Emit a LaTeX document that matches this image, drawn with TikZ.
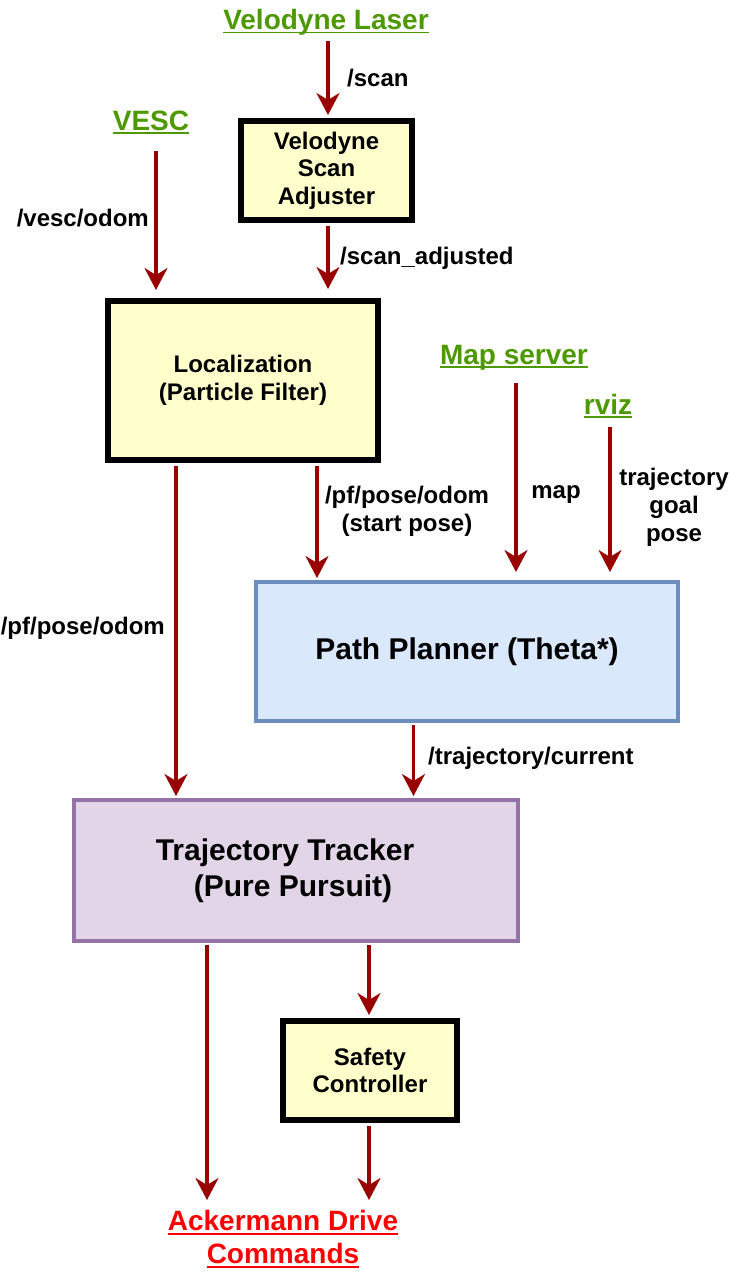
\documentclass[tikz,border=0pt]{standalone}
\usepackage{fontspec}
\setmainfont{Liberation Sans}
\usetikzlibrary{arrows.meta}
\definecolor{arrred}{HTML}{990000}
\definecolor{srcgreen}{HTML}{4D9900}
\definecolor{ackred}{HTML}{FF0000}
\definecolor{yfill}{HTML}{FFFFCC}
\definecolor{ppfill}{HTML}{DAE8FC}
\definecolor{ppdraw}{HTML}{6C8EBF}
\definecolor{ttfill}{HTML}{E1D5E7}
\definecolor{ttdraw}{HTML}{9673A6}
\newcommand\ulbox[1]{\setbox0\hbox{#1}\rlap{\rule[-4pt]{\wd0}{1.8pt}}\box0}
\begin{document}
\begin{tikzpicture}[x=1pt,y=-1pt,
  src/.style={font=\fontsize{28}{33}\selectfont\bfseries, text=srcgreen, inner sep=2pt, align=center},
  lbl/.style={font=\fontsize{24}{28}\selectfont\bfseries, inner sep=0pt, align=center},
  ybox/.style={draw=black, line width=6pt, fill=yfill, font=\fontsize{24}{27.5}\selectfont\bfseries, align=center, inner sep=0pt},
  pbox/.style={draw=ppdraw, line width=4pt, fill=ppfill, font=\fontsize{30}{36}\selectfont\bfseries, align=center, inner sep=0pt},
  tbox/.style={draw=ttdraw, line width=4pt, fill=ttfill, font=\fontsize{30}{36}\selectfont\bfseries, align=center, inner sep=0pt},
  arr/.style={draw=arrred, line width=3.2pt, -{Stealth[length=22pt,width=23pt,inset=7pt]}}]
\useasboundingbox (0,0) rectangle (730,1274);

% x positions of connectors
\coordinate (cVL) at (328,0);
\coordinate (cVE) at (156,0);
\coordinate (cLT) at (176,0);
\coordinate (cLP) at (317,0);
\coordinate (cMS) at (516,0);
\coordinate (cRV) at (610,0);
\coordinate (cPT) at (413.5,0);
\coordinate (cTA) at (207,0);
\coordinate (cTS) at (369,0);

% boxes
\node[ybox, minimum width=171pt, minimum height=99pt] (vsa) at (326.5,170.5) {Velodyne\\Scan\\Adjuster};
\node[ybox, minimum width=270pt, minimum height=159pt] (loc) at (243,380.5) {Localization\\(Particle Filter)};
\node[pbox, minimum width=422pt, minimum height=139pt] (pp) at (467,651.5) {Path Planner (Theta*)};
\node[tbox, minimum width=444pt, minimum height=141pt] (tt) at (296,870.5) {Trajectory Tracker\hspace*{22pt}\\(Pure Pursuit)\hspace*{6pt}};
\node[ybox, minimum width=174pt, minimum height=99pt] (sc) at (370,1070.5) {Safety\\Controller};

% sources and sink
\node[src, anchor=base] (vl) at (326,29.3) {\ulbox{Velodyne Laser}};
\node[src, anchor=base] (vesc) at (151,130) {\ulbox{VESC}};
\node[src, anchor=base] (ms) at (514,364) {\ulbox{Map server}};
\node[src, anchor=base] (rviz) at (608,414) {\ulbox{rviz}};
\node[src, text=ackred, anchor=north] (ack) at (283,1208) {\ulbox{Ackermann Drive}\\\ulbox{Commands}};

% labels
\node[lbl, anchor=west] (lscan) at (347,78) {/scan};
\node[lbl, anchor=east] (lvesc) at (149,218) {/vesc/odom};
\node[lbl, anchor=west] (lsa) at (340,258) {/scan\_adjusted};
\node[lbl] (lpf) at (407,511) {/pf/pose/odom\\(start pose)};
\node[lbl] (lmap) at (556,495) {map};
\node[lbl] (ltgp) at (674,507) {trajectory\\goal\\pose};
\node[lbl, anchor=east] (lpf2) at (165,628) {/pf/pose/odom};
\node[lbl, anchor=west] (ltc) at (428,758) {/trajectory/current};

% connectors
\draw[arr, shorten <=4pt, shorten >=3pt] (vl.south -| cVL) -- (vsa.north -| cVL);
\draw[arr, shorten <=15pt, shorten >=8pt] (vesc.south -| cVE) -- (loc.north -| cVE);
\draw[arr, shorten <=3pt, shorten >=9pt] (vsa.south -| cVL) -- (loc.north -| cVL);
\draw[arr, shorten <=3pt, shorten >=2pt] (loc.south -| cLP) -- (pp.north -| cLP);
\draw[arr, shorten <=3pt, shorten >=2pt] (loc.south -| cLT) -- (tt.north -| cLT);
\draw[arr, shorten <=11pt, shorten >=8pt] (ms.south -| cMS) -- (pp.north -| cMS);
\draw[arr, shorten <=7pt, shorten >=8pt] (rviz.south -| cRV) -- (pp.north -| cRV);
\draw[arr, shorten <=2pt, shorten >=2pt] (pp.south -| cPT) -- (tt.north -| cPT);
\draw[arr, shorten <=2pt, shorten >=8pt] (tt.south -| cTA) -- (ack.north -| cTA);
\draw[arr, shorten <=2pt, shorten >=3pt] (tt.south -| cTS) -- (sc.north -| cTS);
\draw[arr, shorten <=3pt, shorten >=8pt] (sc.south -| cTS) -- (ack.north -| cTS);
\end{tikzpicture}
\end{document}
